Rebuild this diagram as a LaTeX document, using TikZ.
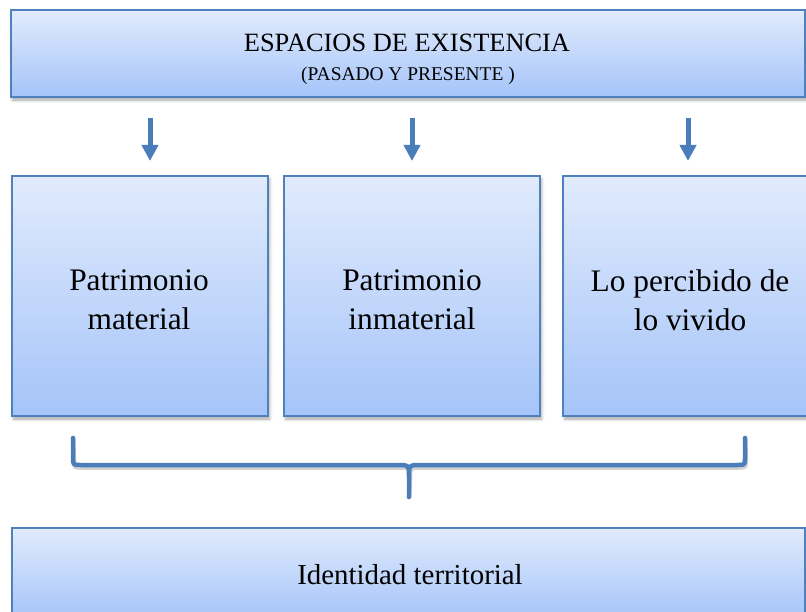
\documentclass[tikz,border=0pt]{standalone}
\usepackage{fontspec}
\setmainfont{Liberation Serif}
\usetikzlibrary{arrows.meta,shadows.blur}
\definecolor{bord}{RGB}{79,129,189}
\definecolor{arr}{RGB}{74,126,187}
\definecolor{gtop}{RGB}{225,235,252}
\definecolor{gbot}{RGB}{165,196,249}
\tikzset{
  boxstyle/.style={draw=bord, line width=1.5bp, top color=gtop, bottom color=gbot,
    blur shadow={shadow xshift=1.5bp, shadow yshift=-3bp, shadow opacity=35, shadow blur radius=3bp},
    inner sep=0pt, align=center},
  boxtext/.style={font=\fontsize{31.5}{39}\selectfont, align=center, inner sep=0pt},
  downarrow/.style={draw=arr, line width=5bp, -{Triangle[width=16bp,length=16bp]}},
  bracestyle/.style={draw=arr, line width=4.5bp, line join=round, line cap=round}
}
\begin{document}
\begin{tikzpicture}[x=1bp,y=-1bp]
\useasboundingbox (0,0) rectangle (806,612);
\clip (0,0) rectangle (806,612);
% top box
\node[boxstyle, minimum width=794bp, minimum height=87bp] (top) at (408,53.5) {};
\node[anchor=base, inner sep=0pt, font=\fontsize{26.5}{30}\selectfont] (title) at (407,52) {ESPACIOS DE EXISTENCIA};
\node[anchor=base, inner sep=0pt, font=\fontsize{19.5}{22}\selectfont] (subtitle) at (408,81) {(PASADO Y PRESENTE )};
% three boxes
\node[boxstyle, minimum width=256bp, minimum height=240bp] (b1) at (140,296) {};
\node[boxstyle, minimum width=256bp, minimum height=240bp] (b2) at (412,296) {};
\node[boxstyle, minimum width=256bp, minimum height=240bp] (b3) at (691,296) {};
\node[boxtext] (t1) at (139,300) {Patrimonio\\material};
\node[boxtext] (t2) at (412,300) {Patrimonio\\inmaterial};
\node[boxtext] (t3) at (690,300) {Lo percibido de\\lo vivido};
% arrows
\coordinate (a1s) at (150,118); \coordinate (a1e) at (150,161);
\coordinate (a2s) at (412,118); \coordinate (a2e) at (412,161);
\coordinate (a3s) at (688,118); \coordinate (a3e) at (688,161);
\draw[downarrow] (a1s) -- (a1e);
\draw[downarrow] (a2s) -- (a2e);
\draw[downarrow] (a3s) -- (a3e);
% brace
\coordinate (bl) at (73,438);
\coordinate (br) at (745,438);
\coordinate (bt) at (409,497);
\draw[bracestyle, draw=black, opacity=0.18, xshift=1bp, yshift=-2.5bp]
  (bl) -- (73,457) .. controls (73,465) .. (81,465) -- (397,465) .. controls (409,465) .. (409,477) -- (bt)
  (br) -- (745,457) .. controls (745,465) .. (737,465) -- (421,465) .. controls (409,465) .. (409,477);
\draw[bracestyle]
  (bl) -- (73,457) .. controls (73,465) .. (81,465) -- (397,465) .. controls (409,465) .. (409,477) -- (bt)
  (br) -- (745,457) .. controls (745,465) .. (737,465) -- (421,465) .. controls (409,465) .. (409,477);
% bottom box
\node[boxstyle, minimum width=793bp, minimum height=92bp] (bot) at (408.5,574) {};
\node[anchor=base, inner sep=0pt, font=\fontsize{29}{34}\selectfont] (bottext) at (410,584) {Identidad territorial};
\end{tikzpicture}
\end{document}
